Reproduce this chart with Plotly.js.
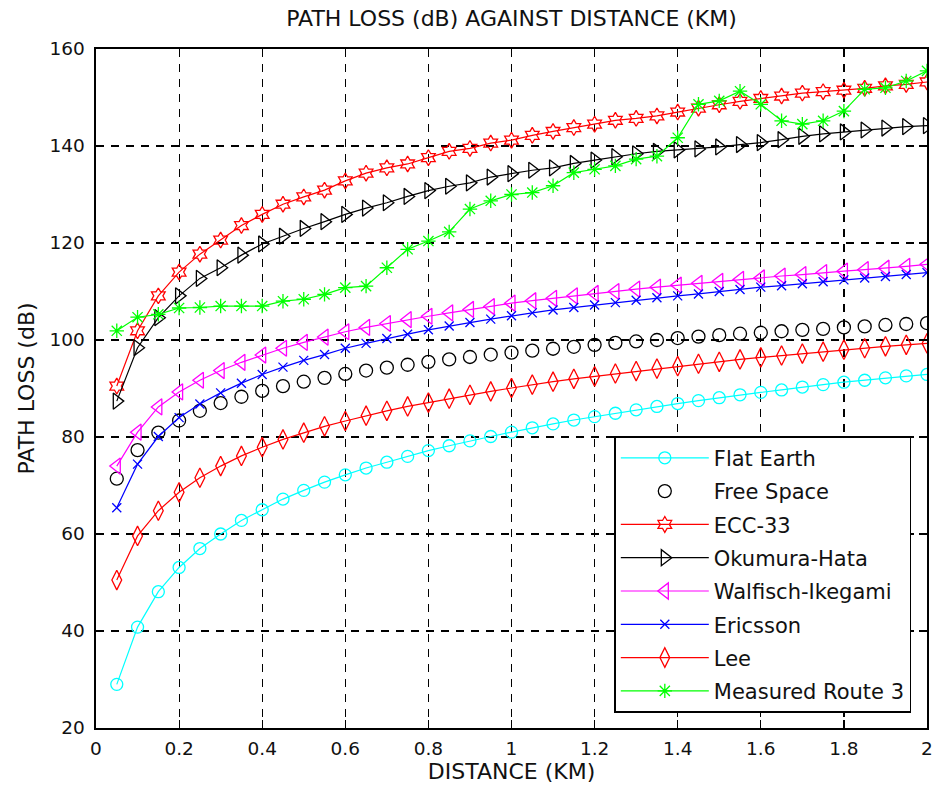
<!DOCTYPE html>
<html>
<head>
<meta charset="utf-8">
<script src="https://cdn.plot.ly/plotly-3.0.1.min.js"></script>
<style>html,body{margin:0;padding:0;background:#fff;}#chart{width:936px;height:794px;}</style>
</head>
<body>
<div id="chart"></div>
<script>
const distance = [0.05,0.1,0.15,0.2,0.25,0.3,0.35,0.4,0.45,0.5,0.55,0.6,0.65,0.7,0.75,0.8,0.85,0.9,0.95,1.0,
                  1.05,1.1,1.15,1.2,1.25,1.3,1.35,1.4,1.45,1.5,1.55,1.6,1.65,1.7,1.75,1.8,1.85,1.9,1.95,2.0];

const flatEarth = [29,40.8,48.1,53.1,57,60,62.8,65,67.2,69,70.7,72.2,73.6,74.8,76,77.2,78.2,79.2,80.1,81,
                   81.9,82.7,83.5,84.2,84.9,85.6,86.3,86.9,87.5,88.1,88.7,89.2,89.7,90.3,90.8,91.3,91.7,92.2,92.6,92.9];

const freeSpace = [71.4,77.3,80.9,83.4,85.4,87,88.3,89.5,90.5,91.4,92.2,93,93.7,94.3,94.9,95.5,96,96.5,97,97.4,
                   97.8,98.2,98.6,99,99.4,99.7,100,100.4,100.7,101,101.3,101.5,101.8,102.1,102.3,102.6,102.8,103.1,103.3,103.5];

const ecc33 = [90.5,101.9,109.1,114,117.7,120.6,123.6,125.9,128,129.5,130.9,132.8,134.4,135.5,136.3,137.6,138.9,139.5,140.6,141.2,
               142.2,143,143.8,144.5,145.3,145.7,146.2,147,147.8,148.5,149.2,149.8,150.3,150.9,151.2,151.5,151.9,152.4,152.7,153.2];

const okumuraHata = [87.4,98.4,104.6,109.1,112.7,114.9,117.5,119.8,121.4,123,124.4,125.9,127.2,128.3,129.6,130.8,131.7,132.4,133.6,134.3,
                     135,135.5,136.4,137.1,137.8,138.4,138.9,139.2,139.4,139.8,140.3,140.7,141.3,142,142.5,142.9,143.3,143.7,144,144.2];

const walfischIkegami = [74,81,86.2,89.3,91.7,93.7,95.4,96.9,98.3,99.5,100.6,101.7,102.6,103.4,104.2,104.9,105.6,106.3,106.9,107.6,
                         108.1,108.6,109.1,109.6,110,110.5,110.9,111.3,111.7,112.1,112.5,112.8,113.2,113.5,113.9,114.2,114.5,114.8,115.2,115.6];

const ericsson = [65.4,74.4,80.1,84,86.8,89.1,91.1,92.9,94.4,95.8,97,98.3,99.3,100.3,101.2,102.1,102.9,103.6,104.3,105,
                  105.6,106.2,106.7,107.2,107.7,108.2,108.7,109.1,109.5,110,110.4,110.9,111.2,111.6,112,112.4,112.8,113.1,113.5,113.9];

const lee = [50.5,59.6,64.8,68.6,71.6,74,76.1,77.9,79.5,80.9,82.2,83.3,84.4,85.4,86.3,87.1,87.9,88.7,89.4,90.1,
             90.8,91.4,92,92.5,93.1,93.6,94.1,94.6,95.1,95.5,96,96.4,96.8,97.2,97.6,98,98.3,98.7,99,99.3];

const measuredRoute3 = [101.9,104.7,105.3,106.6,106.7,107,107,107,108,108.4,109.4,110.8,111.1,114.9,118.7,120.4,122.3,127,128.7,130,
                        130.4,131.8,134.5,135.2,135.9,137.3,137.9,141.7,148.6,149.3,151.3,148.6,145.2,144.5,145.2,147.2,151.7,152,153.4,155.5];

const seriesNames = ["Flat Earth","Free Space","ECC-33","Okumura-Hata","Walfisch-Ikegami","Ericsson","Lee","Measured Route 3"];
const xTicks = [0,0.2,0.4,0.6,0.8,1,1.2,1.4,1.6,1.8,2];
const xTickText = ["0","0.2","0.4","0.6","0.8","1","1.2","1.4","1.6","1.8","2"];
const yTicks = [20,40,60,80,100,120,140,160];

const FONT = "DejaVu Sans, Arial, sans-serif";

function tr(name, y, color, symbol, size, mode) {
  return {
    x: distance, y: y, name: name, type: "scatter",
    mode: mode || "lines+markers",
    legendgroup: name,
    line: {color: color, width: 1.2},
    marker: {symbol: symbol, size: size, color: color, line: {color: color, width: 1.3}}
  };
}

const data = [
  tr(seriesNames[0], flatEarth, "#00FFFF", "circle-open", 12),
  tr(seriesNames[1], freeSpace, "#000000", "circle-open", 13, "markers"),
  tr(seriesNames[2], ecc33, "#FF0000", "hexagram-open", 12),
  tr(seriesNames[3], okumuraHata, "#000000", "triangle-right-open", 14),
  tr(seriesNames[4], walfischIkegami, "#FF00FF", "triangle-left-open", 14),
  tr(seriesNames[5], ericsson, "#0000FF", "x-thin-open", 9),
  tr(seriesNames[6], lee, "#FF0000", "diamond-tall-open", 14),
  tr(seriesNames[7], measuredRoute3, "#00FF00", "asterisk-open", 12)
];

const axisCommon = {
  showline: true, linecolor: "#000", linewidth: 1.6, mirror: "ticks",
  ticks: "inside", ticklen: 8, tickcolor: "#000", tickwidth: 1.2,
  showgrid: true, gridcolor: "#000", gridwidth: 1.2, griddash: "8px,7px",
  zeroline: false,
  tickfont: {family: FONT, size: 18.5, color: "#111"}
};

const layout = {
  width: 936, height: 794,
  margin: {l: 96, r: 9, t: 49, b: 66},
  paper_bgcolor: "#fff", plot_bgcolor: "#fff",
  title: {text: "PATH LOSS (dB) AGAINST DISTANCE (KM)", font: {family: FONT, size: 22, color: "#111"},
          x: 0.5465, xanchor: "center", y: 0.977, yanchor: "middle"},
  xaxis: Object.assign({}, axisCommon, {
    range: [0, 2], tickvals: xTicks, ticktext: xTickText, ticklabelstandoff: 3,
    title: {text: "DISTANCE (KM)", font: {family: FONT, size: 22, color: "#111"}, standoff: 4}
  }),
  yaxis: Object.assign({}, axisCommon, {
    range: [20, 160], tickvals: yTicks, ticklabelstandoff: 6,
    title: {text: "PATH LOSS (dB)", font: {family: FONT, size: 22, color: "#111"}, standoff: 8}
  }),
  showlegend: true,
  legend: {
    x: 0.981, xanchor: "right", y: 0.022, yanchor: "bottom",
    bgcolor: "#fff", bordercolor: "#000", borderwidth: 1.6,
    font: {family: FONT, size: 21, color: "#111"},
    tracegroupgap: 3, itemwidth: 88
  }
};

Plotly.newPlot("chart", data, layout, {displayModeBar: false, staticPlot: true});
</script>
</body>
</html>
